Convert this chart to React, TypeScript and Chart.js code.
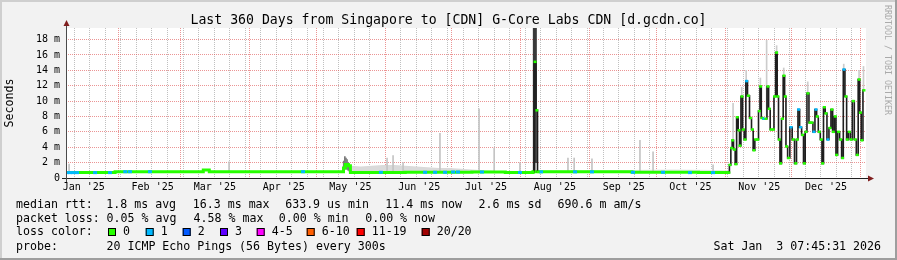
import React, { useEffect, useRef } from 'react';
import { Chart, registerables } from 'chart.js';

Chart.register(...registerables);

const MONO = '"DejaVu Sans Mono", "Liberation Mono", monospace';

// ---------- time axis: day numbers, 0 = 2025-01-01 00:00 ----------
const rangeStart = 7.32; // Wed Jan  8 2025 07:45
const rangeEnd = 367.32; // Sat Jan  3 2026 07:45
const monthStartDays = [31, 59, 90, 120, 151, 181, 212, 243, 273, 304, 334, 365];
const monthFirstDays = [0, 31, 59, 90, 120, 151, 181, 212, 243, 273, 304, 334];
const monthLabels = ["Jan '25", "Feb '25", "Mar '25", "Apr '25", "May '25", "Jun '25", "Jul '25", "Aug '25", "Sep '25", "Oct '25", "Nov '25", "Dec '25"];
const firstWeekLine = 11; // Sun Jan 12 2025

// ---------- value axis (ms) ----------
const yMax = 19.5;
const yTickValues = [0, 1, 2, 3, 4, 5, 6, 7, 8, 9, 10, 11, 12, 13, 14, 15, 16, 17, 18, 19];

// ---------- median rtt, quiet period (each value holds until the next day) ----------
const baseDays = [7.32, 29.4, 69.1, 71.8, 132.2, 133.0, 134.4, 135.3, 160, 190, 205, 217.5, 219.8, 262, 292, 305.8];
const baseMedian = [0.70, 0.82, 1.05, 0.82, 1.30, 1.75, 1.60, 0.72, 0.74, 0.78, 0.72, 0.80, 0.80, 0.74, 0.70, 0.70];

// loss = 1 of 20 during the quiet period
const loss1Days = [7.8, 9.2, 10.5, 12.3, 20.4, 27.1, 34.0, 36.1, 45.1, 114, 149, 168.9, 173.4, 177.9, 181.5, 183.7, 194.5, 211.6, 221.1, 236.4, 244, 262.5, 276, 288.1, 298.5];
const loss1Median = [0.70, 0.70, 0.70, 0.70, 0.70, 0.70, 0.82, 0.82, 0.82, 0.82, 0.74, 0.74, 0.74, 0.74, 0.78, 0.78, 0.78, 0.72, 0.80, 0.80, 0.80, 0.74, 0.74, 0.70, 0.70];

// smoke (ping spread) spikes during the quiet period
const smokeDays = [8.7, 80.7, 151.8, 154.5, 159.0, 175.6, 193.2, 200.0, 211.6, 233.2, 236.0, 244.0, 265.6, 271.5, 298.5];
const smokeLow = [0.8, 0.8, 0.8, 0.8, 0.8, 0.8, 0.8, 0.8, 0.8, 0.8, 0.8, 0.8, 0.8, 0.8, 0.8];
const smokeHigh = [1.8, 2.1, 2.6, 2.9, 2.0, 5.8, 9.0, 3.9, 2.0, 2.6, 2.6, 2.5, 4.9, 3.4, 1.7];

// dense smoke in mid May
const bumpDays = [132.3, 132.8, 133.3, 133.8, 134.3, 134.8];
const bumpLow = [1.0, 1.1, 1.2, 1.1, 1.0, 0.9];
const bumpHigh = [2.2, 2.8, 2.6, 2.4, 2.0, 1.6];

// smoke band May - Jul
const bandDays = [135.3, 140, 145, 150, 155, 160, 165, 170, 175, 180, 185, 190, 195, 200];
const bandLow = [0.72, 0.72, 0.72, 0.72, 0.72, 0.72, 0.72, 0.72, 0.72, 0.72, 0.72, 0.72, 0.72, 0.72];
const bandHigh = [1.6, 1.5, 1.6, 1.7, 1.7, 1.6, 1.5, 1.4, 1.3, 1.3, 1.2, 1.1, 1.0, 0.95];

// smoke band Aug - Oct
const lateBandDays = [220, 240, 260, 280, 300, 305.6];
const lateBandLow = [0.75, 0.75, 0.72, 0.72, 0.70, 0.70];
const lateBandHigh = [1.0, 1.0, 1.05, 1.1, 1.05, 1.0];

// late July outage spike
const spikeDays = [217.5, 218.4, 219.2, 219.8];
const spikeMedian = [0.8, 15.1, 8.8, 0.8];
const spikeLoss = [0, 0, 0, 0];
const spikeSmokeDays = [218.0, 218.6];
const spikeSmokeLow = [0.8, 2.0];
const spikeSmokeHigh = [19.5, 19.5];

// Nov - Jan unstable period
const recentDays = [305.6, 306.1, 306.9, 307.3, 308.1, 308.8, 309.4, 310.2, 310.6, 311.5, 312.1, 312.9, 313.6, 314.4, 315.4, 316.2, 316.9, 317.7, 318.6, 319.3, 319.9, 320.5, 321.4, 322.3, 323.2, 323.8, 324.6, 325.6, 326.2, 327.1, 327.6, 328.3, 328.9, 329.7, 330.4, 331.0, 331.6, 332.5, 333.6, 334.6, 335.7, 336.4, 337.0, 337.9, 338.8, 339.6, 340.3, 341.2, 342.1, 343.0, 343.9, 344.8, 345.4, 346.3, 347.2, 347.8, 348.6, 349.3, 350.2, 351.1, 352.0, 352.6, 353.5, 354.1, 355.0, 355.9, 356.8, 357.4, 358.3, 358.9, 359.8, 360.7, 361.6, 362.5, 363.4, 364.2, 364.8, 365.5, 366.4];
const recentMedian = [0.70, 1.7, 3.9, 4.9, 3.7, 1.8, 7.9, 6.2, 4.2, 10.6, 6.3, 5.0, 12.6, 10.7, 7.8, 6.3, 3.6, 5.0, 5.0, 8.7, 11.9, 7.8, 7.7, 7.7, 11.9, 9.0, 6.3, 6.3, 10.6, 16.3, 10.6, 5.0, 1.9, 7.7, 13.3, 10.6, 4.1, 2.6, 6.6, 5.0, 1.9, 5.0, 8.9, 6.6, 5.6, 1.9, 6.0, 11.0, 7.2, 7.2, 6.0, 8.9, 8.0, 6.0, 5.0, 1.9, 9.2, 8.4, 5.0, 6.5, 8.9, 6.0, 8.0, 3.0, 6.0, 5.0, 2.6, 14.1, 10.6, 5.0, 6.0, 5.0, 10.0, 5.0, 3.0, 12.8, 8.5, 4.9, 11.4];
const recentLoss = [0, 0, 0, 0, 0, 0, 0, 0, 0, 0, 0, 0, 1, 0, 0, 0, 0, 0, 0, 0, 0, 0, 1, 0, 0, 0, 0, 0, 0, 0, 0, 0, 0, 0, 0, 0, 0, 0, 1, 0, 0, 0, 1, 1, 0, 0, 0, 0, 0, 0, 1, 1, 0, 0, 0, 0, 0, 0, 1, 0, 0, 0, 0, 0, 0, 0, 0, 1, 0, 0, 0, 0, 0, 0, 0, 0, 0, 0, 0];
const recentSmokeDays = [307.5, 311.4, 313.4, 319.8, 322.6, 327.1, 330.3, 341.1, 357.3, 364.2, 366.2];
const recentSmokeLow = [4.9, 10.6, 12.6, 11.9, 8.0, 16.3, 13.3, 11.0, 14.1, 12.8, 11.4];
const recentSmokeHigh = [9.7, 11.8, 14.0, 13.0, 17.9, 17.2, 14.3, 12.5, 14.8, 14.0, 14.5];

// ---------- legend ----------
const lossLabels = ['0', '1', '2', '3', '4-5', '6-10', '11-19', '20/20'];
const lossColors = ['#26ff00', '#00b8ff', '#0059ff', '#5e00ff', '#ff00ff', '#ff5e00', '#ff0000', '#a00000'];
const legendRtt = [
  ['median rtt:', 16], ['1.8 ms avg', 106.3], ['16.3 ms max', 192.8], ['633.9 us min', 285.2],
  ['11.4 ms now', 385.3], ['2.6 ms sd', 478.6], ['690.6 m am/s', 557.6],
] as [string, number][];
const legendLoss = [
  ['packet loss:', 16], ['0.05 % avg', 106.6], ['4.58 % max', 193.6], ['0.00 % min', 278.8], ['0.00 % now', 365.2],
] as [string, number][];
const lossBoxX = [108, 145.7, 182.7, 220, 256.7, 306.7, 356.7, 421.7];

// ---------- styles ----------
const MGRID = 'rgba(222,79,79,0.6)';
const GRID = 'rgba(140,140,140,0.55)';
const GREEN = lossColors[0];
const BLUE = lossColors[1];

const pts = (xs: number[], ys: number[]) => xs.map((x, i) => ({ x, y: ys[i] }));
const bars = (xs: number[], lo: number[], hi: number[]) => xs.map((x, i) => ({ x, y: [lo[i], hi[i]] }));

const weekLineDays: number[] = [];
for (let d = firstWeekLine; d < rangeEnd; d += 7) if (!monthStartDays.includes(d)) weekLineDays.push(d);
const monthLabelDays = monthFirstDays.map((d) => d + 15.3);
const xTickValues = [...weekLineDays, ...monthStartDays.filter((d) => d > rangeStart && d < rangeEnd), ...monthLabelDays];

const decor = {
  id: 'decor',
  beforeDraw(chart: any) {
    const { ctx, width, height, chartArea: a } = chart;
    ctx.save();
    ctx.fillStyle = '#f2f2f2';
    ctx.fillRect(0, 0, width, height);
    ctx.fillStyle = '#cfcfcf';
    ctx.fillRect(0, 0, width, 2);
    ctx.fillRect(0, 0, 2, height);
    ctx.fillStyle = '#9e9e9e';
    ctx.fillRect(0, height - 2, width, 2);
    ctx.fillRect(width - 2, 0, 2, height);
    ctx.fillStyle = '#ffffff';
    ctx.fillRect(a.left, a.top, a.right - a.left, a.bottom - a.top);
    ctx.restore();
  },
  afterDraw(chart: any) {
    const { ctx, width, chartArea: a } = chart;
    ctx.save();
    // axes
    ctx.lineWidth = 1;
    ctx.strokeStyle = '#1f1f1f';
    ctx.beginPath();
    ctx.moveTo(a.left - 4, a.bottom + 0.5);
    ctx.lineTo(a.right + 4, a.bottom + 0.5);
    ctx.stroke();
    ctx.strokeStyle = '#4a4a4a';
    ctx.beginPath();
    ctx.moveTo(a.left + 0.5, a.bottom + 4);
    ctx.lineTo(a.left + 0.5, a.top - 4);
    ctx.stroke();
    ctx.fillStyle = '#801f1f';
    ctx.beginPath();
    ctx.moveTo(a.right + 2, a.bottom - 2.5);
    ctx.lineTo(a.right + 2, a.bottom + 3.5);
    ctx.lineTo(a.right + 8, a.bottom + 0.5);
    ctx.closePath();
    ctx.fill();
    ctx.beginPath();
    ctx.moveTo(a.left - 2.5, a.top - 2);
    ctx.lineTo(a.left + 3.5, a.top - 2);
    ctx.lineTo(a.left + 0.5, a.top - 8);
    ctx.closePath();
    ctx.fill();

    // title
    ctx.fillStyle = '#000';
    ctx.textBaseline = 'alphabetic';
    ctx.textAlign = 'center';
    ctx.font = `13.2px ${MONO}`;
    ctx.fillText('Last 360 Days from Singapore to [CDN] G-Core Labs CDN [d.gcdn.co]', width / 2, 24);

    // legend
    ctx.textAlign = 'left';
    ctx.font = `11.6px ${MONO}`;
    legendRtt.forEach(([t, x]) => ctx.fillText(t, x, 207.5));
    legendLoss.forEach(([t, x]) => ctx.fillText(t, x, 221.5));
    ctx.fillText('loss color:', 16, 235);
    lossLabels.forEach((t, i) => {
      const bx = lossBoxX[i];
      ctx.fillStyle = lossColors[i];
      ctx.fillRect(bx, 228, 8, 8);
      ctx.strokeStyle = '#000';
      ctx.lineWidth = 1;
      ctx.strokeRect(bx + 0.5, 228.5, 7, 7);
      ctx.fillStyle = '#000';
      ctx.fillText(t, bx + 15, 235);
    });
    ctx.fillText('probe:', 16, 250);
    ctx.fillText('20 ICMP Echo Pings (56 Bytes) every 300s', 106.5, 250);
    ctx.textAlign = 'right';
    ctx.fillText('Sat Jan  3 07:45:31 2026', 881, 250);

    // watermark
    ctx.save();
    ctx.translate(887, 5);
    ctx.rotate(Math.PI / 2);
    ctx.textAlign = 'left';
    ctx.textBaseline = 'middle';
    ctx.font = `8.3px ${MONO}`;
    ctx.fillStyle = '#aaaaaa';
    ctx.fillText('RRDTOOL / TOBI OETIKER', 0, 0);
    ctx.restore();
    ctx.restore();
  },
};

export default function App() {
  const ref = useRef<HTMLCanvasElement>(null);
  useEffect(() => {
    document.body.style.margin = '0';
    const canvas = ref.current!;
    const barBase = { type: 'bar', grouped: false, borderWidth: 0, barThickness: 1, clip: 0 };
    const chart = new Chart(canvas, {
      type: 'line',
      data: {
        datasets: [
          { type: 'line', data: pts(bandDays, bandLow), borderWidth: 0, pointRadius: 0, fill: false, order: 30 },
          { type: 'line', data: pts(bandDays, bandHigh), borderWidth: 0, pointRadius: 0, fill: '-1', backgroundColor: '#dadada', order: 29 },
          { type: 'line', data: pts(lateBandDays, lateBandLow), borderWidth: 0, pointRadius: 0, fill: false, order: 28 },
          { type: 'line', data: pts(lateBandDays, lateBandHigh), borderWidth: 0, pointRadius: 0, fill: '-1', backgroundColor: '#e6e6e6', order: 27 },
          { ...barBase, data: bars(smokeDays, smokeLow, smokeHigh), backgroundColor: '#c4c4c4', order: 20 },
          { ...barBase, data: bars(bumpDays, bumpLow, bumpHigh), backgroundColor: '#7a7a7a', order: 19 },
          { ...barBase, data: bars(recentSmokeDays, recentSmokeLow, recentSmokeHigh), backgroundColor: '#cccccc', order: 18 },
          { ...barBase, data: bars(spikeSmokeDays, spikeSmokeLow, spikeSmokeHigh), backgroundColor: '#3a3a3a', barThickness: 2, order: 17 },
          {
            type: 'line', data: pts(baseDays, baseMedian), stepped: 'before', borderColor: GREEN, borderWidth: 3,
            pointRadius: 0, fill: false, order: 6,
          },
          {
            type: 'line', data: pts(loss1Days, loss1Median), showLine: false, pointStyle: 'line', pointRadius: 2,
            pointBorderWidth: 3, pointBorderColor: BLUE, order: 5,
          },
          {
            type: 'line', data: pts(spikeDays, spikeMedian), stepped: 'middle', borderColor: '#1e1e1e', borderWidth: 1.6,
            pointStyle: 'line', pointRadius: 1.5, pointBorderWidth: 2.5,
            pointBorderColor: spikeLoss.map((l) => lossColors[l]), fill: false, order: 2,
          },
          {
            type: 'line', data: pts(recentDays, recentMedian), stepped: 'middle', borderColor: '#1e1e1e', borderWidth: 1.6,
            pointStyle: 'line', pointRadius: 1.5, pointBorderWidth: 2.5,
            pointBorderColor: recentLoss.map((l) => lossColors[l]), fill: false, order: 1,
          },
        ] as any,
      },
      options: {
        responsive: false,
        animation: false,
        events: [],
        layout: { padding: { left: 0, right: 31, top: 28, bottom: 0 } },
        plugins: { legend: { display: false }, tooltip: { enabled: false }, title: { display: false } },
        scales: {
          x: {
            type: 'linear', min: rangeStart, max: rangeEnd, offset: false,
            afterBuildTicks: (axis: any) => { axis.ticks = xTickValues.map((v) => ({ value: v })); },
            afterFit: (axis: any) => { axis.height = 82; },
            grid: {
              offset: false, drawTicks: false, lineWidth: 1,
              color: (c: any) => {
                const v = c.tick ? c.tick.value : NaN;
                if (monthStartDays.includes(v)) return MGRID;
                if (weekLineDays.includes(v)) return GRID;
                return 'rgba(0,0,0,0)';
              },
            },
            border: { display: false, dash: [1, 1] },
            ticks: {
              autoSkip: false, maxRotation: 0, minRotation: 0, padding: 3, color: '#000',
              font: { family: MONO, size: 10 },
              callback: (v: any) => {
                const i = monthLabelDays.indexOf(v);
                return i >= 0 ? monthLabels[i] : '';
              },
            },
          },
          y: {
            type: 'linear', min: 0, max: yMax,
            afterBuildTicks: (axis: any) => { axis.ticks = yTickValues.map((v) => ({ value: v })); },
            afterFit: (axis: any) => { axis.width = 66; },
            grid: {
              drawTicks: false, lineWidth: 1,
              color: (c: any) => {
                const v = c.tick ? c.tick.value : NaN;
                if (v === 0) return 'rgba(0,0,0,0)';
                return v % 2 === 0 ? MGRID : GRID;
              },
            },
            border: { display: false, dash: [1, 1] },
            ticks: {
              padding: 6, color: '#000', font: { family: MONO, size: 10 },
              callback: (v: any) => (v === 0 ? '0' : v % 2 === 0 ? `${v} m` : ''),
            },
            title: {
              display: true, text: 'Seconds', color: '#000',
              font: { family: MONO, size: 11.6 }, padding: { top: 3, bottom: 0 },
            },
          },
        },
      } as any,
      plugins: [decor],
    });
    return () => chart.destroy();
  }, []);
  return (
    <div style={{ width: 897, height: 260 }}>
      <canvas ref={ref} width={897} height={260} style={{ display: 'block', width: 897, height: 260 }} />
    </div>
  );
}
